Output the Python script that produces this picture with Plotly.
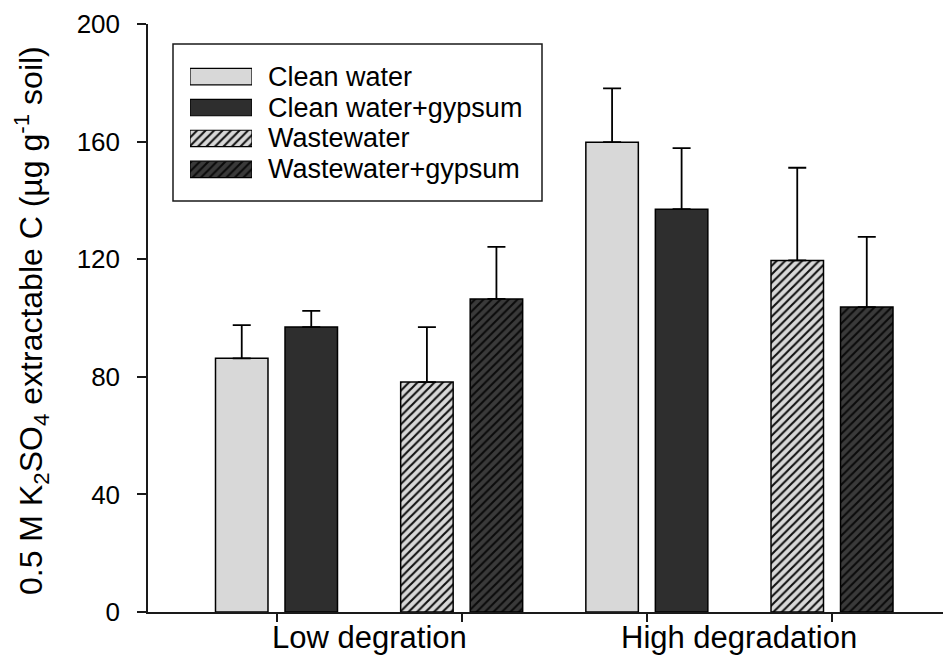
import plotly.graph_objects as go

# ---- data ----
groups = ["Low degration", "High degradation"]
series = ["Clean water", "Clean water+gypsum", "Wastewater", "Wastewater+gypsum"]
clean_water = [86.3, 159.8]
clean_water_err = [11.3, 18.3]
clean_water_gypsum = [96.9, 137.0]
clean_water_gypsum_err = [5.5, 20.8]
wastewater = [78.2, 119.6]
wastewater_err = [18.7, 31.5]
wastewater_gypsum = [106.5, 103.7]
wastewater_gypsum_err = [17.7, 23.9]
y_ticks = [0, 40, 80, 120, 160, 200]
y_title = "0.5 M K<sub>2</sub>SO<sub>4</sub> extractable C (µg g<sup>-1</sup> soil)"

values = [clean_water, clean_water_gypsum, wastewater, wastewater_gypsum]
errors = [clean_water_err, clean_water_gypsum_err, wastewater_err, wastewater_gypsum_err]

# ---- styles ----
LIGHT = "#d8d8d8"
DARK = "#2e2e2e"
FONT = "Arial, Liberation Sans, sans-serif"
styles = [
    dict(color=LIGHT, pattern=None),
    dict(color=DARK, pattern=None),
    dict(color=LIGHT, pattern=dict(shape="/", bgcolor=LIGHT, fgcolor="#111111", size=6, solidity=0.35, fillmode="replace")),
    dict(color=DARK, pattern=dict(shape="/", bgcolor="#3a3a3a", fgcolor="#0a0a0a", size=6, solidity=0.35, fillmode="replace")),
]
pair_of = [0, 0, 1, 1]      # which pair inside a group
side_of = [-1, 1, -1, 1]    # left / right bar in the pair
OFFSET = 0.1877
BAR_W = 0.2835

# layout geometry (absolute page pixels; page body has an 8px margin)
PAGE_W, PAGE_H = 951, 657
BODY = 8
W, H = PAGE_W - BODY, PAGE_H - BODY
LEFT, RIGHT, TOP, BOTTOM = 148, 951, 24, 612   # plot area in page pixels
ML, MR, MT, MB = LEFT - BODY, PAGE_W - RIGHT, TOP - BODY, PAGE_H - BOTTOM
PW, PH = RIGHT - LEFT, BOTTOM - TOP
px = lambda x: (x - LEFT) / PW
py = lambda y: (BOTTOM - y) / PH

fig = go.Figure()
for i, name in enumerate(series):
    xs = [g * 2 + pair_of[i] + side_of[i] * OFFSET for g in range(len(groups))]
    marker = dict(color=styles[i]["color"], line=dict(color="black", width=1.5))
    if styles[i]["pattern"]:
        marker["pattern"] = styles[i]["pattern"]
    fig.add_trace(go.Bar(
        x=xs, y=values[i], width=BAR_W, name=name, marker=marker,
        error_y=dict(type="data", symmetric=False, array=errors[i],
                     arrayminus=[0] * len(errors[i]), color="black", thickness=1.8, width=9),
        showlegend=False, xaxis="x", yaxis="y",
    ))

# legend swatches drawn as small horizontal bars in an inset axis
for i, name in enumerate(series):
    marker = dict(color=styles[i]["color"], line=dict(color="black", width=1.2))
    if styles[i]["pattern"]:
        marker["pattern"] = styles[i]["pattern"]
    fig.add_trace(go.Bar(
        x=[1], y=[name], orientation="h", width=0.53, marker=marker,
        showlegend=False, xaxis="x2", yaxis="y2", hoverinfo="skip",
    ))

annotations = []
for name in series:
    annotations.append(dict(x=px(266), y=name, xref="paper", yref="y2", text=name,
                            showarrow=False, xanchor="left", yanchor="middle",
                            font=dict(family=FONT, size=27, color="black")))
for g, label in enumerate(groups):
    annotations.append(dict(x=g * 2 + 0.5, y=py(637), xref="x", yref="paper", text=label,
                            showarrow=False, xanchor="center", yanchor="middle",
                            font=dict(family=FONT, size=31, color="black")))
annotations.append(dict(x=px(32), y=py(321), xref="paper", yref="paper", text=y_title,
                        textangle=-90, showarrow=False, xanchor="center", yanchor="middle",
                        font=dict(family=FONT, size=32, color="black")))

x_left = -(276.5 - LEFT) / 185.17
x_right = x_left + PW / 185.17

fig.update_layout(
    width=W, height=H,
    margin=dict(l=ML, r=MR, t=MT, b=MB),
    paper_bgcolor="white", plot_bgcolor="rgba(0,0,0,0)",
    barmode="overlay",
    font=dict(family=FONT, color="black"),
    xaxis=dict(range=[x_left, x_right], showgrid=False, zeroline=False,
               showline=True, linecolor="#1a1a1a", linewidth=1.5,
               tickmode="array", tickvals=[0, 1, 2, 3], ticks="outside",
               ticklen=8, tickwidth=1.5, tickcolor="#1a1a1a", showticklabels=False),
    yaxis=dict(range=[0, 200], showgrid=False, zeroline=False,
               showline=True, linecolor="#1a1a1a", linewidth=1.5,
               tickmode="array", tickvals=y_ticks, ticks="outside",
               ticklen=9, tickwidth=1.5, tickcolor="#1a1a1a",
               tickfont=dict(family=FONT, size=26, color="black"),
               ticklabelstandoff=12),
    xaxis2=dict(domain=[px(190), px(252)], anchor="y2", range=[0, 1], visible=False),
    yaxis2=dict(domain=[py(184.8), py(61.2)], anchor="x2", type="category",
                categoryorder="array", categoryarray=series, range=[3.5, -0.5], visible=False),
    shapes=[dict(type="rect", xref="paper", yref="paper", x0=px(173), x1=px(542),
                 y0=py(201), y1=py(44), line=dict(color="#1a1a1a", width=1.5),
                 fillcolor="white", layer="below")],
    annotations=annotations,
)

fig.write_html("out.html")
